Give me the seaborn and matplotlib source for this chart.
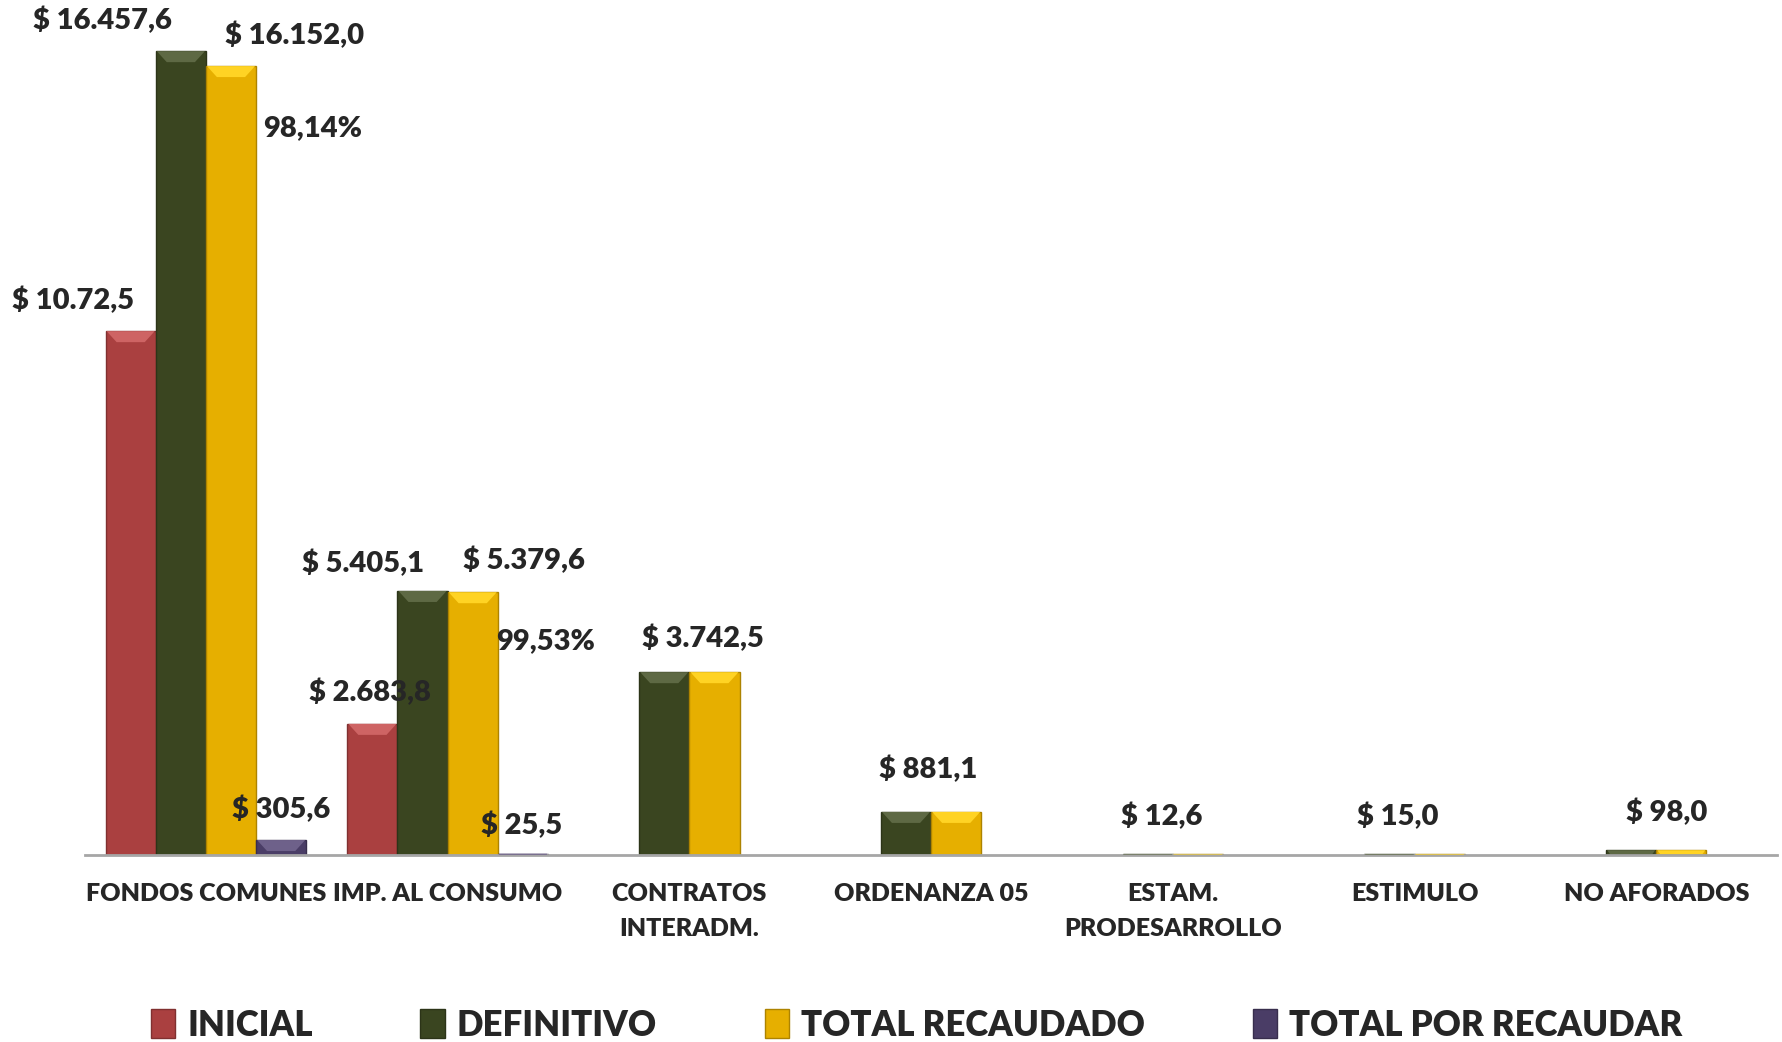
import pandas as pd
import matplotlib.pyplot as plt
import seaborn as sns
from matplotlib.patches import Patch, Polygon
import matplotlib.colors as mcolors

# Data (millions of pesos)
categories = ['FONDOS COMUNES', 'IMP. AL CONSUMO', 'CONTRATOS\nINTERADM.', 'ORDENANZA 05',
              'ESTAM.\nPRODESARROLLO', 'ESTIMULO', 'NO AFORADOS']
inicial = [10725.0, 2683.8, 0, 0, 0, 0, 0]
definitivo = [16457.6, 5405.1, 3742.5, 881.1, 12.6, 15.0, 98.0]
recaudado = [16152.0, 5379.6, 3742.5, 881.1, 12.6, 15.0, 98.0]
por_recaudar = [305.6, 25.5, 0, 0, 0, 0, 0]
pct_labels = ['98,14%', '99,53%']
inicial_txt = ['$ 10.72,5', '$ 2.683,8']
definitivo_txt = ['$ 16.457,6', '$ 5.405,1']
recaudado_txt = ['$ 16.152,0', '$ 5.379,6', '$ 3.742,5', '$ 881,1', '$ 12,6', '$ 15,0', '$ 98,0']
por_txt = ['$ 305,6', '$ 25,5']

series = ['INICIAL', 'DEFINITIVO', 'TOTAL RECAUDADO', 'TOTAL POR RECAUDAR']
colors = {'INICIAL': '#AA4040', 'DEFINITIVO': '#3A4520',
          'TOTAL RECAUDADO': '#E6AF00', 'TOTAL POR RECAUDAR': '#4A3D66'}

wide = pd.DataFrame({'cat': categories, 'INICIAL': inicial, 'DEFINITIVO': definitivo,
                     'TOTAL RECAUDADO': recaudado, 'TOTAL POR RECAUDAR': por_recaudar})
long = wide.melt(id_vars='cat', var_name='serie', value_name='valor')
full_cats = categories[:2]
df4 = long[long['cat'].isin(full_cats)]
df2 = long[~long['cat'].isin(full_cats) & long['serie'].isin(series[1:3])]

sns.set_style('white')
plt.rcParams['font.family'] = ['Lato', 'DejaVu Sans']
plt.rcParams['font.weight'] = 'heavy'

fig = plt.figure(figsize=(17.83, 10.42), dpi=100)
ax = fig.add_axes([0.0477, 0.1795, 0.949, 0.8205])

sns.barplot(data=df4, x='cat', y='valor', hue='serie', order=categories, hue_order=series,
            palette=colors, width=0.83, ax=ax, legend=False, saturation=1)
sns.barplot(data=df2, x='cat', y='valor', hue='serie', order=categories, hue_order=series[1:3],
            palette=colors, width=0.415, ax=ax, legend=False, saturation=1)

ax.set_ylim(0, 17505)
ax.set_xlim(-0.5, len(categories) - 0.5)
ax.set_xlabel('')
ax.set_ylabel('')
ax.set_yticks([])
for s in ['top', 'right', 'left']:
    ax.spines[s].set_visible(False)
ax.spines['bottom'].set_color('#A6A6A6')
ax.spines['bottom'].set_linewidth(2)
ax.tick_params(axis='x', length=0, pad=20)
for t in ax.get_xticklabels():
    t.set_fontsize(18)
    t.set_fontweight('heavy')
    t.set_linespacing(1.75)

fig.canvas.draw()

# bevel effect on top of each bar
tr = ax.transData
for p in ax.patches:
    h = p.get_height()
    if h <= 0:
        continue
    x0, y0 = tr.transform((p.get_x(), 0))
    x1, y1 = tr.transform((p.get_x() + p.get_width(), h))
    bh = min(11, (y1 - y0) * 0.8)
    base = mcolors.to_rgb(p.get_facecolor())
    light = tuple(min(1, c + 0.14) for c in base)
    dark = tuple(c * 0.75 for c in base)
    p.set_edgecolor(dark)
    p.set_linewidth(1)
    pts = [(x0 + 1, y1), (x1 - 1, y1), (x1 - bh, y1 - bh), (x0 + bh, y1 - bh)]
    pts = tr.inverted().transform(pts)
    ax.add_patch(Polygon(pts, closed=True, facecolor=light, edgecolor='none', zorder=3))

# value labels
c4 = ax.containers[:4]
c2 = ax.containers[4:6]
lab = dict(ha='center', va='center', fontsize=21, fontweight='heavy',
           textcoords='offset pixels', annotation_clip=False)


def put(bar, txt, dx, dy):
    xc = bar.get_x() + bar.get_width() / 2
    ax.annotate(txt, (xc, bar.get_height()), xytext=(dx * 1.137, dy * 1.137), **lab)


ini_off = [(-51, 27), (-2, 28)]
def_off = [(-69, 27), (-52, 24)]
rec_off = [(56, 27), (45, 28)]
pct_off = [(72, -55), (64, -43)]
por_off = [(0, 27), (-1, 25)]
for i in range(2):
    put(c4[0][i], inicial_txt[i], *ini_off[i])
    put(c4[1][i], definitivo_txt[i], *def_off[i])
    put(c4[2][i], recaudado_txt[i], *rec_off[i])
    put(c4[2][i], pct_labels[i], *pct_off[i])
    put(c4[3][i], por_txt[i], *por_off[i])

rest_off = [(-10, 30), (-25, 37), (-32, 33), (-37, 33), (-13, 33)]
for j in range(5):
    put(c2[1][j], recaudado_txt[j + 2], *rest_off[j])

handles = [Patch(facecolor=colors[s], edgecolor=tuple(c * 0.75 for c in mcolors.to_rgb(colors[s])))
           for s in series]
fig.legend(handles, series, loc='center', bbox_to_anchor=(0.514, 0.016), ncol=4, frameon=False,
           prop={'size': 25, 'weight': 'heavy'}, handlelength=0.7, handleheight=0.9,
           handletextpad=0.35, columnspacing=3.1)

fig.savefig('out.png', dpi=100)
